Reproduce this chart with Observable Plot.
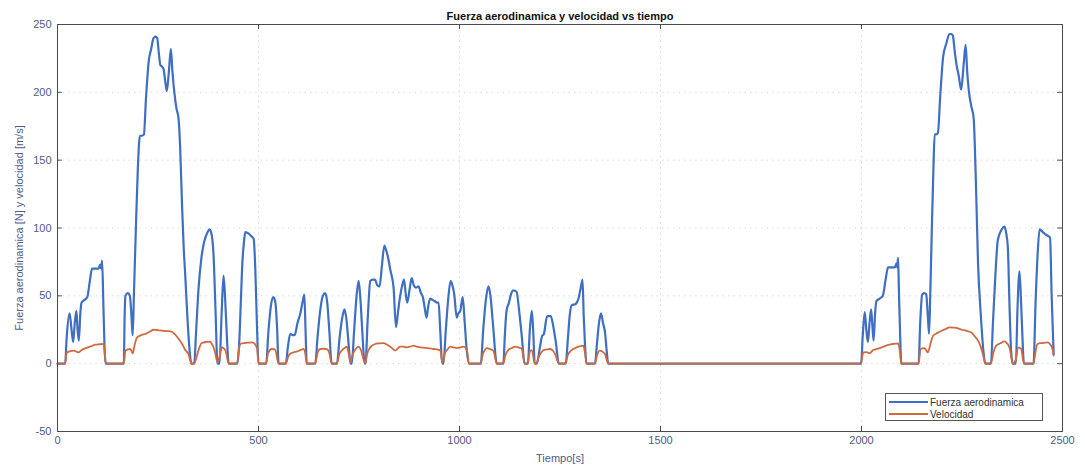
<!DOCTYPE html>
<html>
<head>
<meta charset="utf-8">
<script src="https://cdn.jsdelivr.net/npm/d3@7"></script>
<script src="https://cdn.jsdelivr.net/npm/@observablehq/plot@0.6"></script>
<style>
  html, body { margin: 0; padding: 0; background: #fff; }
  #wrap { position: relative; width: 1085px; height: 469px; }
  #legend { position: absolute; left: 885px; top: 393px; width: 158px; height: 28px;
    border: 1px solid #555; background: #fff; font-family: "Liberation Sans", Arial, sans-serif;
    font-size: 10px; color: #333; box-sizing: border-box; }
  .row { position: absolute; left: 3px; height: 12px; display: flex; align-items: center; }
  .sw { width: 39px; height: 0; border-top: 2px solid; margin-right: 2px; }
</style>
</head>
<body>
<div id="wrap"></div>
<script>
const titulo = "Fuerza aerodinamica y velocidad vs tiempo";
const etiquetaX = "Tiempo[s]";
const etiquetaY = "Fuerza aerodinamica [N] y velocidad [m/s]";
const series = ["Fuerza aerodinamica", "Velocidad"];
const colores = ["#3e6fc2", "#cf6a3e"];
const ticksX = [0, 500, 1000, 1500, 2000, 2500];
const ticksY = [-50, 0, 50, 100, 150, 200, 250];

// [tiempo (s), fuerza (N)]
const fuerzaAerodinamica = [
[0,0],[19,0],[23,20],[30,37],[35,25],[39,16],[43,30],[47,39],[50,25],[53,17],[57,38],[60,45],[67,47],[74,49],[80,60],[86,70],[95,70],[102,70],[106,73],[109,70],[111,76],[114,45],[117,12],[120,0],
[165,0],[167,35],[169,50],[175,52],[180,50],[184,35],[187,21],[190,50],[195,100],[200,145],[205,168],[210,168],[215,169],[220,195],[227,223],[233,232],[239,240],[244,241],[248,240],[252,229],[256,220],[260,219],[264,217],[268,208],[272,201],[277,215],[282,232],[286,215],[291,199],[296,188],[301,181],[305,160],[310,115],[314,85],[318,64],[323,35],[328,12],[333,0],
[340,0],[345,25],[351,56],[358,78],[365,90],[372,96],[378,99],[382,97],[388,81],[393,40],[398,0],
[403,0],[408,35],[413,65],[417,48],[421,22],[426,0],
[447,0],[452,15],[456,45],[460,75],[464,90],[467,97],[475,96],[482,94],[488,92],[492,70],[496,30],[500,0],
[519,0],[525,25],[531,43],[537,49],[542,45],[546,28],[550,0],
[568,0],[573,12],[579,22],[585,21],[590,21],[597,30],[604,37],[610,46],[614,51],[617,25],[620,0],
[641,0],[647,20],[653,38],[660,50],[666,52],[671,45],[676,25],[682,0],
[695,0],[702,20],[709,35],[714,40],[719,32],[724,15],[729,0],
[732,0],[738,25],[744,50],[749,61],[753,50],[758,25],[764,0],
[766,0],[772,35],[778,61],[784,62],[790,62],[795,58],[801,57],[807,72],[813,87],[817,84],[821,80],[828,69],[836,56],[842,27],[847,38],[852,49],[857,57],[862,62],[866,52],[870,45],[876,55],[881,63],[886,58],[892,56],[898,57],[904,52],[909,49],[914,40],[918,34],[922,42],[927,48],[933,47],[939,46],[944,45],[948,45],[952,25],[957,0],
[960,0],[966,25],[972,48],[978,61],[983,57],[987,51],[993,34],[997,37],[1002,39],[1008,49],[1013,30],[1018,10],[1024,0],
[1053,0],[1059,25],[1066,48],[1072,57],[1077,50],[1083,30],[1093,0],
[1109,0],[1113,22],[1117,39],[1123,45],[1129,52],[1134,54],[1142,53],[1148,40],[1155,20],[1162,0],
[1170,0],[1175,25],[1180,39],[1184,20],[1187,0],
[1192,0],[1200,12],[1205,20],[1210,22],[1218,35],[1227,35],[1233,28],[1240,15],[1247,0],
[1264,0],[1270,20],[1274,35],[1279,43],[1289,44],[1296,48],[1301,55],[1306,62],[1309,35],[1312,15],[1316,0],
[1337,0],[1342,15],[1347,30],[1352,37],[1357,30],[1362,23],[1366,10],[1370,0],
[1999,0],[2003,20],[2008,38],[2012,25],[2016,16],[2020,30],[2024,40],[2027,28],[2030,17],[2034,38],[2037,46],[2045,48],[2053,50],[2060,62],[2066,71],[2075,71],[2083,71],[2087,74],[2089,71],[2091,78],[2093,55],[2097,12],[2099,0],
[2142,0],[2146,30],[2151,51],[2156,52],[2161,51],[2165,35],[2168,22],[2171,50],[2175,100],[2179,145],[2182,169],[2186,169],[2190,170],[2196,198],[2203,226],[2211,236],[2219,243],[2223,243],[2227,242],[2232,230],[2236,221],[2242,212],[2248,202],[2254,220],[2259,235],[2263,215],[2267,201],[2273,190],[2279,181],[2284,140],[2290,73],[2297,35],[2303,10],[2308,0],
[2322,0],[2327,30],[2333,65],[2339,91],[2347,98],[2356,101],[2360,96],[2364,86],[2368,45],[2372,10],[2376,0],
[2384,0],[2388,40],[2393,68],[2397,45],[2401,15],[2404,0],
[2428,0],[2433,45],[2438,80],[2443,99],[2451,97],[2459,95],[2465,94],[2469,93],[2473,50],[2478,7]
];

// [tiempo (s), velocidad (m/s)]
const velocidad = [
[0,0],[19,0],[23,8],[30,9],[40,9.6],[52,8.3],[60,10],[70,11.5],[85,13],[94,14],[105,14.3],[115,14.5],[117,10],[120,0],
[165,0],[169,9.6],[175,10.5],[181,10.8],[187,7.6],[192,14],[198,19.4],[208,21],[219,22],[229,23.5],[239,25],[250,24.8],[260,24.3],[270,24],[281,23.8],[293,21.4],[302,18],[310,14.5],[318,10],[326,7],[333,0],
[340,0],[347,6],[353,12],[359,15.2],[370,16],[380,16.2],[385,14],[391,9.6],[398,1],
[403,5],[409,12],[418,9.6],[426,0],
[447,0],[451,10],[455,14.5],[465,15.2],[475,15.5],[484,15.7],[496,12],[500,0],
[519,0],[524,8],[533,10.8],[541,10.5],[550,0],
[568,0],[575,6],[580,7.5],[587,8.3],[596,9],[604,10],[612,10.8],[616,8],[620,0],
[641,0],[647,8],[653,10.8],[662,11],[670,10.8],[676,8],[682,0],
[695,0],[701,7],[707,9.6],[714,11.5],[720,12.5],[724,8],[729,1],
[732,5],[740,10],[749,12.5],[755,10],[764,1],
[766,1],[770,7],[778,12],[790,14.5],[800,15],[811,15.2],[820,14],[828,12.5],[840,9.6],[846,11],[852,12.5],[860,12.5],[869,12],[877,12.5],[886,13.3],[894,12.5],[902,12],[910,11.8],[919,11.5],[927,11.2],[935,10.8],[944,10.5],[952,10],[957,1],
[960,2],[963,7],[970,10.5],[977,12.5],[985,12],[993,11.5],[1002,12],[1010,12.5],[1018,10.5],[1024,0],
[1053,0],[1058,7],[1063,10],[1068,11.5],[1076,10.8],[1084,9.6],[1093,0],
[1109,0],[1114,6],[1121,10],[1130,11.5],[1138,12.5],[1146,12],[1155,10.8],[1162,0],
[1170,0],[1175,9],[1180,10],[1187,0],
[1192,0],[1197,5],[1203,8],[1209,10],[1217,10.5],[1225,10.8],[1231,10],[1238,7],[1247,0],
[1264,0],[1269,6],[1274,8.5],[1279,10],[1288,11.5],[1296,12.5],[1302,13],[1308,13.3],[1312,8],[1316,0],
[1337,0],[1342,6],[1349,9.6],[1355,9],[1362,7],[1370,0],
[1999,0],[2003,7],[2006,8.3],[2013,8.5],[2020,7.6],[2029,10],[2037,10.8],[2045,11.5],[2055,12.5],[2066,13.8],[2078,14.5],[2091,15],[2095,10],[2099,0],
[2142,0],[2147,10.8],[2157,11.5],[2165,8.3],[2171,14],[2178,20.6],[2188,22.5],[2199,24.3],[2209,25.5],[2219,26.7],[2230,26.5],[2240,26],[2250,25],[2260,24.3],[2273,23],[2282,20],[2290,17],[2297,12],[2302,7],[2308,0],
[2322,0],[2328,8],[2335,13.3],[2345,15],[2356,16.4],[2362,15],[2368,12],[2372,6],[2376,0],
[2384,3],[2389,12],[2397,11],[2404,0],
[2428,0],[2433,9],[2438,14.5],[2450,15.2],[2463,15.7],[2470,14],[2475,10.8],[2478,6]
];

const axisColor = "#4f5b88";
const frameColor = "#4a4a55";

const chart = Plot.plot({
  width: 1085,
  height: 469,
  marginLeft: 57,
  marginRight: 23,
  marginTop: 24,
  marginBottom: 38,
  style: { fontFamily: "'Liberation Sans', Arial, sans-serif", fontSize: "11px", background: "#fff" },
  x: { domain: [0, 2500] },
  y: { domain: [-50, 250] },
  marks: [
    Plot.gridX(ticksX, { stroke: "#999", strokeOpacity: 0.35, strokeDasharray: "1.5,4" }),
    Plot.gridY(ticksY, { stroke: "#999", strokeOpacity: 0.35, strokeDasharray: "1.5,4" }),
    Plot.axisX(ticksX, { tickSize: 0, tickPadding: 5, fill: axisColor, label: etiquetaX,
      tickFormat: d => String(d),
      labelAnchor: "center", labelArrow: "none", labelOffset: 30, fontSize: 11 }),
    Plot.axisY(ticksY, { tickSize: 0, tickPadding: 6, fill: axisColor, label: etiquetaY,
      tickFormat: d => String(d),
      labelAnchor: "center", labelArrow: "none", labelOffset: 42, fontSize: 11 }),
    Plot.ruleY(ticksY, { x1: 0, x2: 12, stroke: frameColor }),
    Plot.ruleY(ticksY, { x1: 2488, x2: 2500, stroke: frameColor }),
    Plot.ruleX(ticksX, { y1: -50, y2: -46.3, stroke: frameColor }),
    Plot.ruleX(ticksX, { y1: 250, y2: 246.3, stroke: frameColor }),
    Plot.line(fuerzaAerodinamica, { x: d => d[0], y: d => d[1], stroke: colores[0], strokeWidth: 2.2, curve: "monotone-x" }),
    Plot.line(velocidad, { x: d => d[0], y: d => d[1], stroke: colores[1], strokeWidth: 1.8, curve: "monotone-x" }),
    Plot.frame({ stroke: frameColor }),
    Plot.text([titulo], { frameAnchor: "top", dy: -12, fontWeight: "bold", fontSize: 11, fill: "#111" })
  ]
});

const wrap = document.getElementById("wrap");
wrap.appendChild(chart);

const legend = document.createElement("div");
legend.id = "legend";
series.forEach((s, i) => {
  const row = document.createElement("div");
  row.className = "row";
  row.style.top = (2 + i * 12) + "px";
  const sw = document.createElement("span");
  sw.className = "sw";
  sw.style.borderTopColor = colores[i];
  const tx = document.createElement("span");
  tx.textContent = s;
  row.appendChild(sw);
  row.appendChild(tx);
  legend.appendChild(row);
});
wrap.appendChild(legend);
</script>
</body>
</html>
